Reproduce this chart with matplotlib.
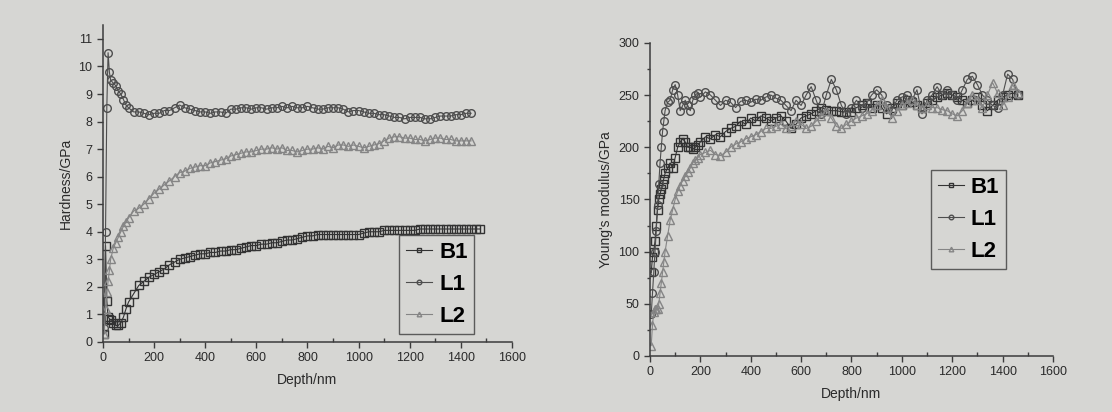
import matplotlib.pyplot as plt
from matplotlib.ticker import MultipleLocator

plt.rcParams['font.family'] = ['Liberation Sans', 'DejaVu Sans']

paper = '#d6d6d3'
ink = '#3c3c3c'

# ---------- hardness data (left) ----------
hd_depth = [5, 10, 15, 20, 25, 30, 40, 50, 60, 70, 80, 90, 100,
            120, 140, 160, 180, 200, 220, 240, 260, 280, 300, 320, 340, 360, 380, 400,
            420, 440, 460, 480, 500, 520, 540, 560, 580, 600, 620, 640, 660, 680, 700,
            720, 740, 760, 780, 800, 820, 840, 860, 880, 900, 920, 940, 960, 980, 1000,
            1020, 1040, 1060, 1080, 1100, 1120, 1140, 1160, 1180, 1200, 1220, 1240, 1260,
            1280, 1300, 1320, 1340, 1360, 1380, 1400, 1420, 1440]

hd_b1 = [0.3, 3.5, 1.5, 0.9, 0.85, 0.8, 0.7, 0.6, 0.6, 0.7, 0.9, 1.2, 1.45,
         1.75, 2.05, 2.2, 2.35, 2.45, 2.55, 2.65, 2.8, 2.9, 3.0, 3.05, 3.1, 3.15, 3.2, 3.2,
         3.25, 3.25, 3.3, 3.3, 3.35, 3.35, 3.4, 3.45, 3.5, 3.5, 3.55, 3.55, 3.6, 3.6, 3.65,
         3.7, 3.7, 3.75, 3.8, 3.85, 3.85, 3.9, 3.9, 3.9, 3.9, 3.9, 3.9, 3.9, 3.9, 3.9,
         3.95, 4.0, 4.0, 4.0, 4.05, 4.05, 4.05, 4.05, 4.05, 4.05, 4.05, 4.1, 4.1,
         4.1, 4.1, 4.1, 4.1, 4.1, 4.1, 4.1, 4.1, 4.1]
hd_b1_tail_depth = [1460, 1475]
hd_b1_tail = [4.1, 4.1]

hd_l1 = [0.5, 4.0, 8.5, 10.5, 9.8, 9.5, 9.4, 9.3, 9.1, 9.0, 8.8, 8.6, 8.5,
         8.35, 8.35, 8.3, 8.25, 8.3, 8.3, 8.4, 8.4, 8.5, 8.6, 8.5, 8.45, 8.4, 8.35, 8.35,
         8.3, 8.35, 8.35, 8.3, 8.45, 8.45, 8.5, 8.5, 8.45, 8.5, 8.5, 8.45, 8.5, 8.5, 8.55,
         8.5, 8.55, 8.5, 8.5, 8.55, 8.5, 8.45, 8.45, 8.5, 8.5, 8.5, 8.45, 8.35, 8.4, 8.4,
         8.35, 8.3, 8.3, 8.25, 8.25, 8.2, 8.15, 8.15, 8.1, 8.15, 8.15, 8.15, 8.1,
         8.1, 8.15, 8.2, 8.2, 8.2, 8.25, 8.25, 8.3, 8.3]

hd_l2 = [0.3, 1.2, 1.8, 2.2, 2.6, 3.0, 3.4, 3.6, 3.8, 4.0, 4.2, 4.35, 4.5,
         4.75, 4.85, 5.0, 5.2, 5.4, 5.55, 5.7, 5.85, 6.0, 6.15, 6.2, 6.3, 6.35, 6.4, 6.4,
         6.5, 6.55, 6.6, 6.65, 6.75, 6.8, 6.85, 6.9, 6.9, 6.95, 7.0, 7.0, 7.05, 7.0, 7.05,
         6.95, 6.95, 6.9, 6.95, 7.0, 7.0, 7.05, 7.0, 7.1, 7.05, 7.15, 7.15, 7.1, 7.15, 7.1,
         7.05, 7.1, 7.15, 7.2, 7.3, 7.4, 7.45, 7.45, 7.4, 7.4, 7.35, 7.35, 7.3,
         7.35, 7.4, 7.4, 7.35, 7.35, 7.3, 7.3, 7.3, 7.3]

# ---------- Young's modulus data (right) ----------
ym_depth = [5, 10, 15, 20, 25, 30, 35, 40, 45, 50, 55, 60,
            70, 80, 90, 100, 110, 120, 130, 140, 150, 160, 170, 180, 190, 200,
            220, 240, 260, 280, 300, 320, 340, 360, 380, 400, 420, 440, 460, 480, 500,
            520, 540, 560, 580, 600, 620, 640, 660, 680, 700, 720, 740, 760, 780, 800,
            820, 840, 860, 880, 900, 920, 940, 960, 980, 1000, 1020, 1040, 1060, 1080,
            1100, 1120, 1140, 1160, 1180, 1200, 1220, 1240, 1260, 1280, 1300, 1320,
            1340, 1360, 1380, 1400, 1420, 1440, 1460]

ym_b1 = [80, 95, 100, 110, 125, 140, 150, 155, 160, 165, 170, 175,
         180, 185, 180, 190, 200, 205, 208, 205, 200, 200, 198, 200, 202, 205,
         210, 208, 212, 210, 215, 218, 220, 225, 222, 228, 225, 230, 228, 225, 228,
         230, 225, 218, 222, 228, 230, 232, 235, 238, 236, 235, 235, 234, 234, 234,
         238, 240, 242, 238, 240, 238, 232, 238, 242, 240, 245, 243, 240, 238,
         242, 245, 248, 250, 252, 250, 248, 245, 242, 245, 248, 240,
         235, 240, 245, 248, 250, 252, 250]

ym_l1 = [40, 60, 80, 100, 120, 145, 165, 185, 200, 215, 225, 235,
         243, 245, 255, 260, 250, 235, 240, 245, 240, 235, 245, 250, 252, 248,
         253, 250, 245, 240, 245, 243, 238, 244, 245, 243, 246, 245, 248, 250, 247,
         245, 240, 235, 245, 240, 250, 258, 245, 232, 250, 265, 255, 240, 232, 238,
         245, 238, 242, 250, 255, 250, 240, 235, 245, 248, 250, 245, 255, 232,
         245, 250, 258, 250, 255, 250, 245, 255, 265, 268, 260, 250,
         245, 240, 238, 250, 270, 265, 250]

ym_l2 = [10, 30, 42, 45, 45, 45, 50, 60, 70, 80, 90, 100,
         115, 130, 140, 150, 158, 163, 168, 172, 176, 180, 185, 188, 190, 193,
         195, 197, 193, 192, 195, 200, 203, 205, 208, 210, 212, 215, 218, 218, 220,
         222, 218, 220, 225, 222, 218, 220, 225, 230, 235, 228, 220, 218, 222, 225,
         228, 230, 232, 235, 240, 245, 238, 228, 235, 240, 242, 245, 240, 238,
         240, 238, 238, 236, 235, 232, 230, 235, 242, 250, 245, 238,
         250, 262, 252, 240, 248, 260, 252]

labels = ['B1', 'L1', 'L2']
markers = ['s', 'o', '^']
colors = ['#333333', '#4e4e4e', '#858585']

fig = plt.figure(figsize=(11.12, 4.12), dpi=100, facecolor=paper)
ax1 = fig.add_axes([0.0926, 0.170, 0.3678, 0.769])
ax2 = fig.add_axes([0.5845, 0.136, 0.3624, 0.760])


def draw(ax, xs, ys, m, c, lab):
    ax.plot(xs, ys, linestyle='-', lw=0.8, color=c, marker=m, markersize=5.5,
            markerfacecolor='none', markeredgecolor=c, markeredgewidth=1.0, label=lab)


draw(ax1, hd_depth + hd_b1_tail_depth, hd_b1 + hd_b1_tail, markers[0], colors[0], labels[0])
draw(ax1, hd_depth, hd_l1, markers[1], colors[1], labels[1])
draw(ax1, hd_depth, hd_l2, markers[2], colors[2], labels[2])

draw(ax2, ym_depth, ym_b1, markers[0], colors[0], labels[0])
draw(ax2, ym_depth, ym_l1, markers[1], colors[1], labels[1])
draw(ax2, ym_depth, ym_l2, markers[2], colors[2], labels[2])

for ax in (ax1, ax2):
    ax.set_facecolor('none')
    ax.set_xlim(0, 1600)
    for s in ('top', 'right'):
        ax.spines[s].set_visible(False)
    for s in ('left', 'bottom'):
        ax.spines[s].set_color(ink)
        ax.spines[s].set_linewidth(1.1)
    ax.xaxis.set_major_locator(MultipleLocator(200))
    ax.xaxis.set_minor_locator(MultipleLocator(100))
    ax.tick_params(which='major', axis='x', direction='out', length=4, width=1, color=ink)
    ax.tick_params(which='minor', axis='x', direction='in', length=3, width=1, color=ink)
    ax.tick_params(axis='y', direction='out', length=4, width=1, color=ink)
    ax.tick_params(labelsize=9, labelcolor='#2a2a2a')
    ax.set_xlabel('Depth/nm', fontsize=10, color='#2a2a2a', labelpad=6)

ax1.set_ylim(0, 11.5)
ax1.yaxis.set_major_locator(MultipleLocator(1))
ax1.set_ylabel('Hardness/GPa', fontsize=10, color='#2a2a2a', labelpad=4)

ax2.set_ylim(0, 300)
ax2.yaxis.set_major_locator(MultipleLocator(50))
ax2.yaxis.set_minor_locator(MultipleLocator(25))
ax2.tick_params(which='minor', axis='y', direction='out', length=2.5, width=1, color=ink)
ax2.set_ylabel("Young's modulus/GPa", fontsize=10, color='#2a2a2a', labelpad=4)

for ax, anchor in ((ax1, (0.724, 0.3375)), (ax2, (0.697, 0.594))):
    leg = ax.legend(loc='upper left', bbox_to_anchor=anchor, frameon=True, fancybox=False,
                    prop={'size': 16, 'weight': 'bold'}, handlelength=1.2, handletextpad=0.3,
                    labelspacing=0.5, borderpad=0.3, borderaxespad=0, markerscale=0.6)
    leg.get_frame().set_edgecolor(ink)
    leg.get_frame().set_facecolor('none')
    leg.get_frame().set_linewidth(1.0)

fig.savefig('out.png', dpi=100, facecolor=paper)
